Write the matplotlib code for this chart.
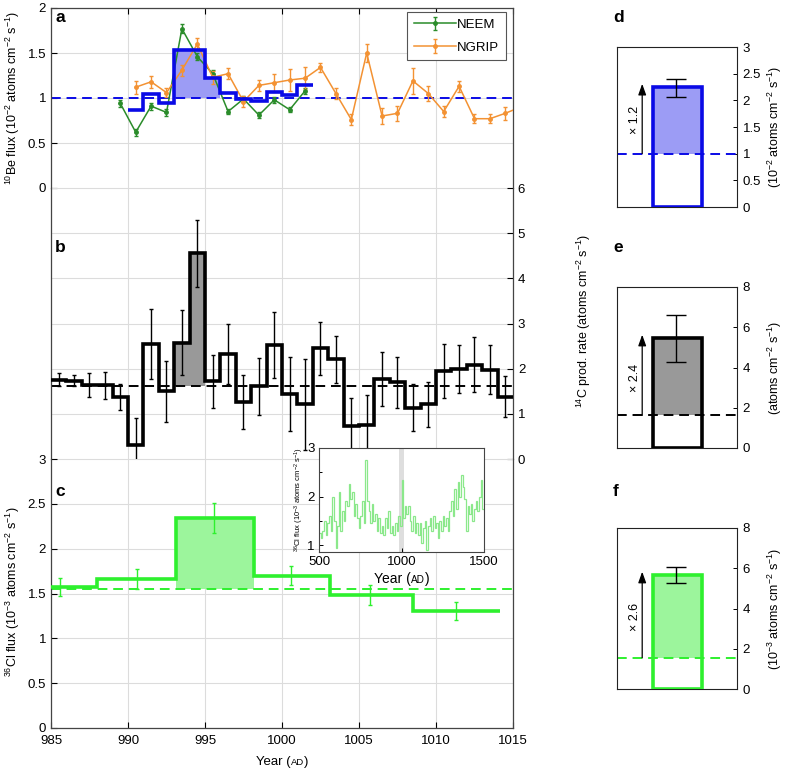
import matplotlib
matplotlib.use("Agg")
import matplotlib.pyplot as plt
from matplotlib.offsetbox import TextArea, HPacker, AnchoredOffsetbox
import numpy as np

plt.rcParams['font.family'] = ['Liberation Sans', 'DejaVu Sans']
plt.rcParams['mathtext.fontset'] = 'custom'
plt.rcParams['mathtext.rm'] = 'Liberation Sans'
plt.rcParams['mathtext.it'] = 'Liberation Sans:italic'
plt.rcParams['mathtext.bf'] = 'Liberation Sans:bold'
plt.rcParams['font.size'] = 9.5
plt.rcParams['xtick.direction'] = 'in'
plt.rcParams['ytick.direction'] = 'in'

# ---- panel a: 10Be flux ----
neem_years = [989.5, 990.5, 991.5, 992.5, 993.5, 994.5, 995.5, 996.5, 997.5,
              998.5, 999.5, 1000.5, 1001.5]
neem = [0.94, 0.62, 0.91, 0.84, 1.77, 1.46, 1.27, 0.85, 0.99, 0.81, 0.98, 0.87, 1.08]
neem_err = [0.04, 0.04, 0.04, 0.04, 0.05, 0.04, 0.04, 0.03, 0.03, 0.03, 0.03, 0.03, 0.03]

ngrip_years = [990.5, 991.5, 992.5, 993.5, 994.5, 995.5, 996.5, 997.5, 998.5,
               999.5, 1000.5, 1001.5, 1002.5, 1003.5, 1004.5, 1005.5, 1006.5,
               1007.5, 1008.5, 1009.5, 1010.5, 1011.5, 1012.5, 1013.5, 1014.5, 1015.5]
ngrip = [1.12, 1.18, 1.06, 1.31, 1.60, 1.23, 1.27, 0.96, 1.14, 1.17, 1.20, 1.22,
         1.34, 1.05, 0.76, 1.50, 0.80, 0.83, 1.19, 1.05, 0.85, 1.13, 0.77, 0.77,
         0.83, 0.90]
ngrip_err = [0.07, 0.07, 0.05, 0.06, 0.07, 0.07, 0.06, 0.06, 0.06, 0.1, 0.12, 0.12,
             0.05, 0.06, 0.06, 0.1, 0.09, 0.08, 0.14, 0.08, 0.06, 0.06, 0.05, 0.05,
             0.07, 0.07]

be_edges = np.arange(990, 1003)
be_stack = [0.87, 1.05, 0.95, 1.53, 1.53, 1.22, 1.06, 0.99, 0.97, 1.07, 1.03, 1.15]
be_base = 1.0

# ---- panel b: 14C production rate ----
c14_edges = np.arange(985, 1016)
c14 = [1.76, 1.73, 1.64, 1.63, 1.38, 0.30, 2.55, 1.50, 2.57, 4.55, 1.72, 2.32,
       1.26, 1.61, 2.52, 1.44, 1.21, 2.45, 2.21, 0.72, 0.76, 1.78, 1.70, 1.14,
       1.21, 1.95, 2.00, 2.09, 1.98, 1.38]
c14_err = [0.15, 0.12, 0.26, 0.30, 0.29, 0.60, 0.78, 0.67, 0.72, 0.75, 0.59, 0.66,
           0.60, 0.63, 0.73, 0.82, 1.00, 0.58, 0.52, 0.62, 0.65, 0.60, 0.56, 0.51,
           0.50, 0.60, 0.53, 0.61, 0.55, 0.45]
c14_base = 1.62

# ---- panel c: 36Cl flux ----
cl_edges = [984.0, 988.0, 993.1, 998.15, 1003.1, 1008.5, 1014.15]
cl = [1.57, 1.66, 2.34, 1.70, 1.485, 1.31]
cl_err_x = [985.6, 990.6, 995.6, 1000.6, 1005.7, 1011.3]
cl_err = [0.10, 0.11, 0.17, 0.11, 0.11, 0.10]
cl_base = 1.55

# inset: 36Cl flux 500-1500 AD (10-yr values)
inset_edges = np.arange(500, 1510, 10)
inset_cl = [1.25, 1.15, 1.3, 1.5, 1.2, 1.45, 1.6, 1.3, 2.0, 1.5,
            0.95, 1.4, 2.1, 1.3, 1.7, 1.5, 1.9, 1.8, 2.25, 1.95,
            2.1, 1.6, 1.85, 1.55, 1.35, 1.6, 1.9, 1.45, 2.75, 1.9,
            1.7, 1.45, 1.85, 1.5, 1.65, 1.3, 1.55, 1.25, 1.4, 1.2,
            1.55, 1.35, 1.7, 1.25, 1.4, 1.2, 1.45, 1.3, 1.6, 1.4,
            2.35, 1.55, 1.8, 1.65, 1.8, 1.5, 1.3, 1.6, 1.25, 1.45,
            1.2, 1.45, 1.05, 1.35, 1.5, 0.9, 1.4, 1.55, 1.3, 1.6,
            1.35, 1.45, 1.15, 1.5, 1.3, 1.6, 1.4, 1.55, 1.3, 1.7,
            1.9, 1.6, 2.15, 1.75, 2.3, 2.0, 2.45, 2.2, 1.95, 1.3,
            1.8, 1.65, 1.85, 1.5, 1.75, 1.9, 1.7, 2.0, 2.35, 1.75]

# ---- panels d-f: summary ----
sum_top = [2.25, 5.47, 5.67]
sum_base = [1.0, 1.62, 1.55]
sum_err_mid = [2.23, 5.44, 5.67]
sum_err = [0.17, 1.16, 0.40]
sum_factor = ['× 1.2', '× 2.4', '× 2.6']
sum_text_y = [1.63, 3.5, 3.6]

blue = '#0a0ae6'
blue_fill = '#9c9cf5'
green_neem = '#2a8c2a'
orange = '#f39233'
grey_fill = '#999999'
green = '#2ef02e'
green_fill = '#9cf59c'
inset_green = '#8be88b'
grid_c = '#dcdcdc'
spine_c = '#444444'

fig = plt.figure(figsize=(7.88, 7.7), dpi=100)

L, W = 51 / 788, 462 / 788
ax_a = fig.add_axes([L, 1 - 188 / 770, W, 180 / 770])
ax_b = fig.add_axes([L, 1 - 459 / 770, W, 271 / 770], sharex=ax_a)
ax_c = fig.add_axes([L, 1 - 728 / 770, W, 269 / 770], sharex=ax_a)

for ax in (ax_a, ax_b, ax_c):
    ax.set_facecolor('none')
    ax.grid(True, color=grid_c, lw=0.8)
    ax.set_axisbelow(True)
    for s in ax.spines.values():
        s.set_color(spine_c)
        s.set_linewidth(0.9)
    ax.tick_params(colors='black', length=4, width=0.8)

ax_a.spines['bottom'].set_visible(False)
ax_b.spines['top'].set_visible(False)
ax_b.spines['bottom'].set_visible(False)
ax_c.spines['top'].set_visible(False)
ax_a.tick_params(axis='x', bottom=False, top=True, labelbottom=False)
ax_b.tick_params(axis='x', bottom=False, labelbottom=False)
ax_c.tick_params(axis='x', pad=5)

# panel a
ax_a.stairs(be_stack[3:6], be_edges[3:7], baseline=be_base, fill=True,
            color=blue_fill, zorder=1)
ax_a.axhline(be_base, color=blue, lw=1.4, ls=(0, (5, 3)), zorder=2)
ax_a.errorbar(neem_years, neem, yerr=neem_err, color=green_neem, lw=1.1,
              marker='o', ms=2.5, capsize=1.5, elinewidth=1, label='NEEM', zorder=3)
ax_a.errorbar(ngrip_years, ngrip, yerr=ngrip_err, color=orange, lw=1.1,
              marker='o', ms=2.5, capsize=1.5, elinewidth=1, label='NGRIP', zorder=3)
ax_a.stairs(be_stack, be_edges, baseline=None, color=blue, lw=2.6, zorder=4)
ax_a.set_xlim(985, 1015)
ax_a.set_ylim(0, 2)
ax_a.set_yticks([0, 0.5, 1, 1.5, 2])
ax_a.set_yticklabels(['0', '0.5', '1', '1.5', '2'])
ax_a.set_ylabel(r'$^{10}$Be flux (10$^{-2}$ atoms cm$^{-2}$ s$^{-1}$)', size=9)
ax_a.yaxis.set_label_coords(-0.062, 0.5)
leg = ax_a.legend(loc='upper right', bbox_to_anchor=(0.985, 0.978), fancybox=False,
                  edgecolor='#555555', handlelength=3.2, borderpad=0.5,
                  labelspacing=0.8, handletextpad=0.1, borderaxespad=0,
                  framealpha=1)
leg.get_frame().set_linewidth(0.8)

# panel b
ax_b.stairs(c14[8:10], c14_edges[8:11], baseline=c14_base, fill=True,
            color=grey_fill, zorder=1)
ax_b.axhline(c14_base, color='black', lw=1.4, ls=(0, (5, 3)), zorder=2)
ax_b.errorbar(c14_edges[:-1] + 0.5, c14, yerr=c14_err, fmt='none', ecolor='black',
              elinewidth=1, capsize=1.5, zorder=3)
ax_b.stairs(c14, c14_edges, baseline=None, color='black', lw=2.6, zorder=4)
ax_b.set_ylim(0, 6)
ax_b.yaxis.tick_right()
ax_b.yaxis.set_label_position('right')
ax_b.set_yticks([0, 1, 2, 3, 4, 5, 6])
ax_b.set_ylabel(r'$^{14}$C prod. rate (atoms cm$^{-2}$ s$^{-1}$)', size=9)
ax_b.yaxis.set_label_coords(1.134, 0.51)

# panel c
ax_c.stairs(cl[2:3], cl_edges[2:4], baseline=cl_base, fill=True,
            color=green_fill, zorder=1)
ax_c.axhline(cl_base, color=green, lw=1.4, ls=(0, (5, 3)), zorder=2)
ax_c.errorbar(cl_err_x, cl, yerr=cl_err, fmt='none', ecolor=green, elinewidth=1,
              capsize=1.5, zorder=3)
ax_c.stairs(cl, cl_edges, baseline=None, color=green, lw=2.6, zorder=4)
ax_c.set_ylim(0, 3)
ax_c.set_yticks([0, 0.5, 1, 1.5, 2, 2.5, 3])
ax_c.set_yticklabels(['0', '0.5', '1', '1.5', '2', '2.5', '3'])
ax_c.set_xticks([985, 990, 995, 1000, 1005, 1010, 1015])
ax_c.set_ylabel(r'$^{36}$Cl flux (10$^{-3}$ atoms cm$^{-2}$ s$^{-1}$)', size=9)
ax_c.yaxis.set_label_coords(-0.062, 0.505)


def year_label(ax, x, y, size):
    box = HPacker(children=[TextArea('Year (', textprops=dict(size=size)),
                            TextArea('AD', textprops=dict(size=size * 0.72)),
                            TextArea(')', textprops=dict(size=size))],
                  align='baseline', pad=0, sep=0)
    ab = AnchoredOffsetbox(loc='center', child=box, frameon=False,
                           bbox_to_anchor=(x, y), bbox_transform=ax.transAxes,
                           borderpad=0)
    ax.add_artist(ab)


year_label(ax_c, 0.5, -0.128, 9.5)

for txt, yy in (('a', 18), ('b', 247), ('c', 492)):
    fig.text(55 / 788, 1 - yy / 770, txt, weight='bold', size=12.5,
             ha='left', va='center')

# inset
ax_in = fig.add_axes([319 / 788, 1 - 552 / 770, 165 / 788, 104 / 770])
ax_in.axvspan(985, 1015, color='#dedede', lw=0, zorder=1)
ax_in.stairs(inset_cl, inset_edges, baseline=None, color=inset_green, lw=0.9, zorder=2)
ax_in.set_xlim(500, 1500)
ax_in.set_ylim(0.86, 3)
ax_in.set_xticks([500, 1000, 1500])
ax_in.set_yticks([1, 2, 3])
ax_in.set_yticks([1.5, 2.5], minor=True)
ax_in.tick_params(length=3, width=0.7, pad=3)
ax_in.tick_params(which='minor', length=2, width=0.7)
for s in ax_in.spines.values():
    s.set_color(spine_c)
    s.set_linewidth(0.8)
ax_in.set_ylabel(r'$^{36}$Cl flux (10$^{-3}$ atoms cm$^{-2}$ s$^{-1}$)', size=5.5,
                 labelpad=1)
year_label(ax_in, 0.503, -0.26, 10)

# panels d, e, f
panel_tops = [47, 287, 528]
panel_bots = [207, 448, 689]
ylims = [3, 8, 8]
yticks = [[0, 0.5, 1, 1.5, 2, 2.5, 3], [0, 2, 4, 6, 8], [0, 2, 4, 6, 8]]
ytlabels = [['0', '0.5', '1', '1.5', '2', '2.5', '3'], None, None]
edge_cols = [blue, 'black', green]
fill_cols = [blue_fill, grey_fill, green_fill]
ylabels = [r'(10$^{-2}$ atoms cm$^{-2}$ s$^{-1}$)',
           r'(atoms cm$^{-2}$ s$^{-1}$)',
           r'(10$^{-3}$ atoms cm$^{-2}$ s$^{-1}$)']
letters = ['d', 'e', 'f']
letter_y = [18, 247, 492]

for i in range(3):
    t, b = panel_tops[i], panel_bots[i]
    ax = fig.add_axes([617 / 788, 1 - b / 770, 120 / 788, (b - t) / 770])
    ax.set_xlim(0, 1)
    ax.set_ylim(0, ylims[i])
    ax.bar(0.505, sum_top[i] - sum_base[i], width=0.41, bottom=sum_base[i],
           color=fill_cols[i], lw=0, zorder=1)
    ax.axhline(sum_base[i], color=edge_cols[i], lw=1.4, ls=(0, (5, 3)), zorder=2)
    ax.bar(0.505, sum_top[i], width=0.41, facecolor='none',
           edgecolor=edge_cols[i], lw=2.6, zorder=3)
    ax.errorbar(0.49, sum_err_mid[i], yerr=sum_err[i], fmt='none', ecolor='black',
                elinewidth=1, capsize=7, capthick=1, zorder=4)
    ax.annotate('', xy=(0.21, sum_top[i] + 0.02 * ylims[i]), xytext=(0.21, sum_base[i]),
                arrowprops=dict(arrowstyle='-|>,head_length=0.7,head_width=0.25',
                                color='black', lw=0.9, shrinkA=0, shrinkB=0))
    ax.text(0.147, sum_text_y[i], sum_factor[i], rotation=90, ha='center',
            va='center', size=9)
    ax.set_xticks([])
    ax.yaxis.tick_right()
    ax.yaxis.set_label_position('right')
    ax.set_yticks(yticks[i])
    if ytlabels[i] is not None:
        ax.set_yticklabels(ytlabels[i])
    ax.tick_params(axis='y', length=3, width=0.7, pad=4)
    for s in ax.spines.values():
        s.set_color('#222222')
        s.set_linewidth(0.8)
    ax.set_ylabel(ylabels[i], size=9)
    ax.yaxis.set_label_coords(1.24, 0.5)
    fig.text(613 / 788, 1 - letter_y[i] / 770, letters[i], weight='bold', size=12.5,
             ha='left', va='center')

fig.savefig('out.png', dpi=100)
